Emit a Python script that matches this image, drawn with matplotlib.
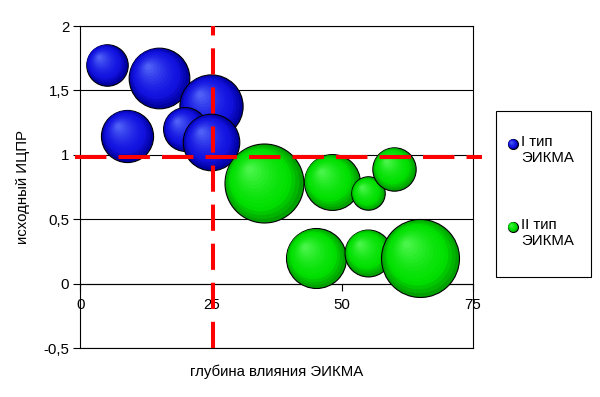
import matplotlib
matplotlib.use("Agg")
import matplotlib.pyplot as plt
import numpy as np
from matplotlib.colors import to_rgb
from matplotlib.patches import Rectangle
from matplotlib.transforms import offset_copy

plt.rcParams["font.family"] = ["Liberation Sans", "DejaVu Sans"]
plt.rcParams["font.size"] = 10.8

# --- data ---
TYPE1_X = [5, 15, 9, 25, 20, 25]
TYPE1_Y = [1.7, 1.6, 1.15, 1.38, 1.2, 1.1]
TYPE1_SIZE = [4.3, 9.2, 6.8, 10.0, 4.8, 8.0]

TYPE2_X = [35, 48, 55, 60, 45, 55, 65]
TYPE2_Y = [0.78, 0.79, 0.70, 0.89, 0.20, 0.24, 0.20]
TYPE2_SIZE = [15.6, 7.8, 2.8, 4.7, 9.0, 5.5, 15.2]

SERIES_LABELS = ["I тип\nЭИКМА", "II тип\nЭИКМА"]
THRESHOLD_X = 25.4
THRESHOLD_Y = 0.98

X_TICKS = [0, 25, 50, 75]
Y_TICKS = [-0.5, 0, 0.5, 1, 1.5, 2]
Y_TICK_LABELS = ["-0,5", "0", "0,5", "1", "1,5", "2"]

X_LABEL = "глубина влияния ЭИКМА"
Y_LABEL = "исходный ИЦПР"

# (edge, body, highlight)
BLUE = ("#0000a0", "#1212e0", "#4d5ff6")
GREEN = ("#00a000", "#00e000", "#48f448")

DPI = 100
N_LAYERS = 14


def _mix(c1, c2, w):
    a, b = np.array(to_rgb(c1)), np.array(to_rgb(c2))
    return tuple(a + (b - a) * w)


def draw_sphere(ax, x, y, r_px, palette, transform, zorder):
    edge, body, light = palette
    r_pt = r_px * 72.0 / DPI
    for i in range(N_LAYERS):
        t = i / (N_LAYERS - 1)
        f = 1.0 - 0.9 * t
        if t < 0.25:
            col = _mix(edge, body, t / 0.25)
        else:
            col = _mix(body, light, ((t - 0.25) / 0.75) ** 1.4)
        shift = (1.0 - f) * r_pt * 0.38
        tr = offset_copy(transform, fig=ax.figure, x=-shift, y=shift, units="points")
        ax.scatter(
            [x], [y], s=(2 * r_pt * f) ** 2, color=col,
            edgecolors="black" if i == 0 else "none",
            linewidths=0.8 if i == 0 else 0,
            transform=tr, zorder=zorder, clip_on=False,
        )


fig = plt.figure(figsize=(6.0, 3.97), dpi=DPI)
ax = fig.add_axes([0.134, 0.1234, 0.654, 0.811])

ax.set_xlim(0, 75)
ax.set_ylim(-0.5, 2)
ax.set_yticks(Y_TICKS)
ax.set_yticklabels(Y_TICK_LABELS)
ax.tick_params(axis="y", direction="out", length=5, width=0.8, pad=3)
ax.set_xticks([])
ax.grid(axis="y", color="black", linewidth=0.8)
ax.set_axisbelow(True)
for sp in ax.spines.values():
    sp.set_linewidth(0.8)

# horizontal axis crosses at y = 0
sec = ax.secondary_xaxis((0 - Y_TICKS[0]) / (Y_TICKS[-1] - Y_TICKS[0]))
sec.set_xticks(X_TICKS)
sec.tick_params(direction="out", length=5, width=0.8, pad=5)
sec.spines["bottom"].set_linewidth(0.8)

z = 3
for x, y, s in zip(TYPE1_X, TYPE1_Y, TYPE1_SIZE):
    draw_sphere(ax, x, y, 10 * np.sqrt(s), BLUE, ax.transData, z)
    z += 1
for x, y, s in zip(TYPE2_X, TYPE2_Y, TYPE2_SIZE):
    draw_sphere(ax, x, y, 10 * np.sqrt(s), GREEN, ax.transData, z)
    z += 1

# threshold lines
ax.axvline(THRESHOLD_X, color="#ff0000", linewidth=2.9, dashes=(6.5, 3.2),
           zorder=50)
ax.plot([-1.05, 76.8], [THRESHOLD_Y, THRESHOLD_Y], color="#ff0000",
        linewidth=2.9, dashes=(7.8, 3.0), zorder=50, clip_on=False)

ax.set_xlabel(X_LABEL)
ax.xaxis.set_label_coords(0.5, -0.05)
ax.set_ylabel(Y_LABEL)
ax.yaxis.set_label_coords(-0.128, 0.5)

# legend box drawn by hand to mimic the spreadsheet layout
ax.add_patch(Rectangle((0.826, 0.303), 0.159, 0.417, transform=fig.transFigure,
                       facecolor="white", edgecolor="black", linewidth=0.8,
                       clip_on=False, zorder=55))
for (yy, label, pal) in [(0.637, SERIES_LABELS[0], BLUE), (0.428, SERIES_LABELS[1], GREEN)]:
    draw_sphere(ax, 0.855, yy, 5.0, pal, fig.transFigure, 60)
    ax.text(0.868, yy + 0.022, label, va="top", ha="left", linespacing=1.15,
            transform=fig.transFigure, zorder=61)

fig.savefig("out.png", dpi=DPI)
